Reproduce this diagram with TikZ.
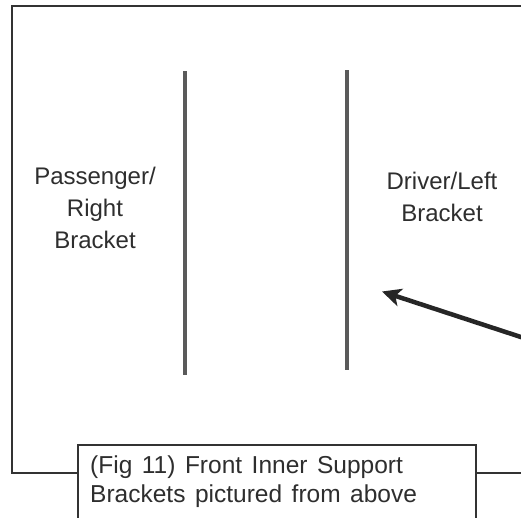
\documentclass[tikz,border=0pt]{standalone}
\usepackage{fontspec}
\setmainfont{Liberation Sans}
\newfontfamily\capsans[WordSpace=1.4]{Liberation Sans}
\usetikzlibrary{arrows.meta}
\definecolor{framec}{HTML}{333333}
\definecolor{barc}{HTML}{5A5A5A}
\definecolor{textc}{HTML}{2E2E2E}
\begin{document}
\begin{tikzpicture}[x=1pt,y=-1pt,
  frameline/.style={draw=framec,line width=2pt},
  barline/.style={draw=barc,line width=4pt},
  lbl/.style={text=textc,font=\fontsize{24}{32}\selectfont,align=center,inner sep=0pt},
  captext/.style={text=textc,font=\capsans\fontsize{24.5}{28.5}\selectfont,align=left,inner sep=0pt,anchor=north west},
  pointer/.style={draw=black!85,line width=4.5pt,-{Stealth[length=19pt,width=18pt,inset=5pt]}}]
\clip (0,0) rectangle (521,517);
\useasboundingbox (0,0) rectangle (521,517);
\fill[white] (0,0) rectangle (521,517);
% outer frame
\coordinate (fTR) at (530,6);
\coordinate (fTL) at (12,6);
\coordinate (fBL) at (12,473);
\coordinate (fBM1) at (78,473);
\coordinate (fBM2) at (476,473);
\coordinate (fBR) at (530,473);
\draw[frameline] (fTR) -- (fTL) -- (fBL) -- (fBM1);
\draw[frameline] (fBM2) -- (fBR);
% caption box
\coordinate (cBL) at (78,530);
\coordinate (cTL) at (78,445);
\coordinate (cTR) at (476,445);
\coordinate (cBR) at (476,530);
\draw[frameline] (cBL) -- (cTL) -- (cTR) -- (cBR);
\node[captext] (caption) at (90,456) {(Fig 11) Front Inner Support\\Brackets pictured from above};
% brackets
\coordinate (b1t) at (184.5,71);
\coordinate (b1b) at (184.5,375);
\coordinate (b2t) at (347,70);
\coordinate (b2b) at (347,370);
\draw[barline] (b1t) -- (b1b);
\draw[barline] (b2t) -- (b2b);
% labels
\node[lbl] (pass) at (95,208) {Passenger/\\Right\\Bracket};
\node[lbl] (drv) at (442,196.5) {Driver/Left\\Bracket};
% arrow
\coordinate (atail) at (530,340);
\coordinate (ahead) at (382,291.5);
\draw[pointer] (atail) -- (ahead);
\end{tikzpicture}
\end{document}
